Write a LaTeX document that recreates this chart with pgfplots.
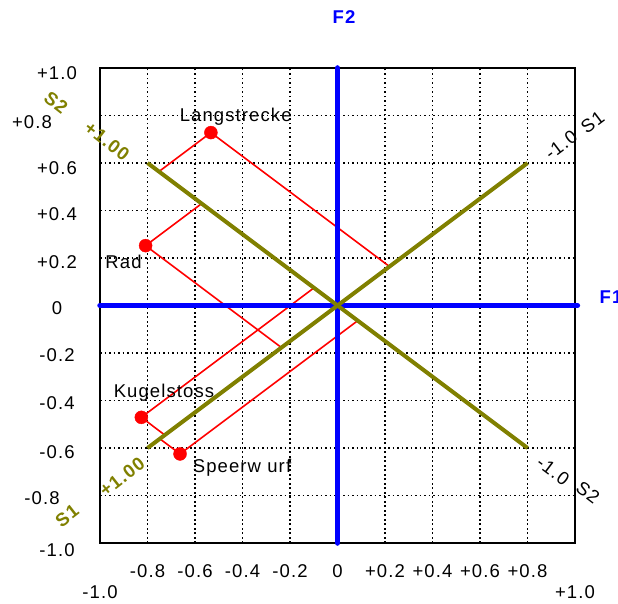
\documentclass[border=0pt]{standalone}
\usepackage{pgfplots}
\pgfplotsset{compat=1.18}
\usepackage{fontspec}
\setmainfont{Liberation Sans}[LetterSpace=6]

\definecolor{sline}{RGB}{128,128,0}

\begin{document}
\begin{tikzpicture}[every node/.style={font=\fontsize{18.5}{21}\selectfont}]
\useasboundingbox (-100pt,-60pt) rectangle (518pt,543pt);
\begin{axis}[
    scale only axis,
    width=475pt, height=475pt,
    xmin=-1, xmax=1, ymin=-1, ymax=1,
    xtick={-0.8,-0.6,-0.4,-0.2,0,0.2,0.4,0.6,0.8},
    ytick={-0.8,-0.6,-0.4,-0.2,0,0.2,0.4,0.6,0.8},
    xticklabels={}, yticklabels={},
    major tick length=0pt,
    grid=major,
    major grid style={black, line width=1.6pt, dash pattern=on 1.6pt off 2.9pt},
    axis line style={black, line width=1.8pt},
    clip=false,
]
% oblique projections of the variables on S1 and S2
\addplot[red, line width=1.6pt] coordinates {(-0.7518,0.5639) (-0.533,0.728) (0.2188,0.1641)};
\addplot[red, line width=1.6pt] coordinates {(-0.572,0.429) (-0.808,0.252) (-0.236,-0.177)};
\addplot[red, line width=1.6pt] coordinates {(-0.099,0.0743) (-0.826,-0.471) (-0.727,-0.5453)};
\addplot[red, line width=1.6pt] coordinates {(0.0852,-0.0639) (-0.663,-0.625) (-0.7482,-0.5611)};
% F1, F2
\addplot[blue, line width=5.5pt, line cap=round] coordinates {(-1,0) (1.01,0)};
\addplot[blue, line width=5.5pt, line cap=round] coordinates {(0,1) (0,-1)};
% S1, S2
\addplot[sline, line width=4pt] coordinates {(-0.8,-0.6) (0.8,0.6)};
\addplot[sline, line width=4pt] coordinates {(-0.8,0.6) (0.8,-0.6)};
% variables
\addplot[only marks, mark=*, mark size=6.5pt, red] coordinates {
  (-0.533,0.728) (-0.808,0.252) (-0.826,-0.471) (-0.663,-0.625)};
\end{axis}

% point labels
\node[anchor=base] at (135.7pt,421.3pt) {Langstrecke};
\node[anchor=base] at (23.5pt,274pt) {Rad};
\node[anchor=base] at (64pt,146pt) {Kugelstoss};
\node[anchor=base] at (142pt,71pt) {Speerw urf};

% axis names
\node[blue, font=\fontsize{18.5}{21}\selectfont\bfseries] at (244pt,525.5pt) {F2};
\node[blue, font=\fontsize{18.5}{21}\selectfont\bfseries] at (511pt,245.5pt) {F1};

% S1 / S2 labels
\node[sline, rotate=-38, font=\fontsize{18.5}{21}\selectfont\bfseries] at (-44pt,440pt) {S2};
\node[sline, rotate=-38, font=\fontsize{18.5}{21}\selectfont\bfseries] at (7pt,402pt) {+1.00};
\node[sline, rotate=38, font=\fontsize{18.5}{21}\selectfont\bfseries] at (-33pt,27.3pt) {S1};
\node[sline, rotate=38, font=\fontsize{18.5}{21}\selectfont\bfseries] at (22pt,66.3pt) {+1.00};
\node[rotate=37] at (461pt,398pt) {-1.0};
\node[rotate=37] at (492.5pt,420.5pt) {S1};
\node[rotate=-37] at (453pt,72pt) {-1.0};
\node[rotate=-37] at (488pt,50.5pt) {S2};

% y tick labels
\node at (-43pt,470pt) {+1.0};
\node at (-68pt,421pt) {+0.8};
\node at (-43pt,375pt) {+0.6};
\node at (-43pt,329pt) {+0.4};
\node at (-43pt,281pt) {+0.2};
\node at (-43pt,235pt) {0};
\node at (-43pt,188pt) {-0.2};
\node at (-43pt,140pt) {-0.4};
\node at (-43pt,90.5pt) {-0.6};
\node at (-58pt,45pt) {-0.8};
\node at (-43pt,-7pt) {-1.0};

% x tick labels
\node at (0pt,-49pt) {-1.0};
\node at (47.5pt,-28pt) {-0.8};
\node at (95pt,-28pt) {-0.6};
\node at (142.5pt,-28pt) {-0.4};
\node at (190pt,-28pt) {-0.2};
\node at (237.5pt,-28pt) {0};
\node at (285pt,-28pt) {+0.2};
\node at (332.5pt,-28pt) {+0.4};
\node at (380pt,-28pt) {+0.6};
\node at (427.5pt,-28pt) {+0.8};
\node at (475pt,-49pt) {+1.0};
\end{tikzpicture}
\end{document}
